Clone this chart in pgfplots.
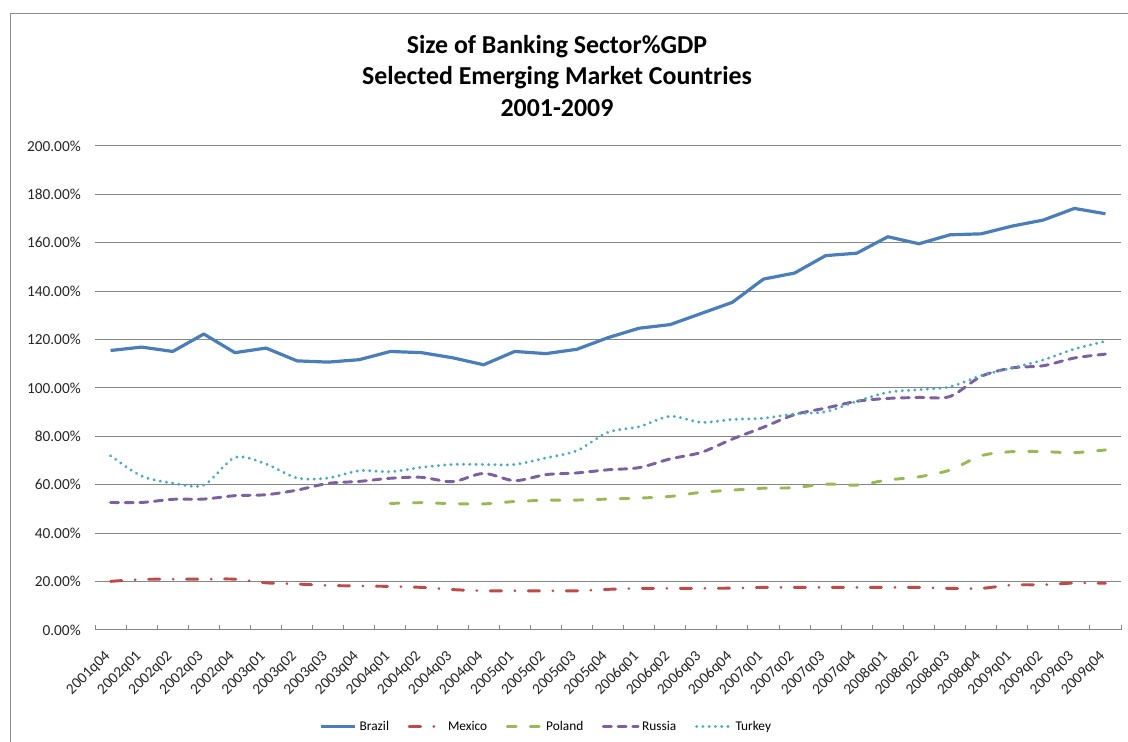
\documentclass[border=0pt]{standalone}
\usepackage{pgfplots}
\pgfplotsset{compat=1.18}
\usepackage{pgfplotstable}
\usepackage{fontspec}
\setmainfont{Carlito}
\definecolor{cBrazil}{HTML}{4A7EBB}
\definecolor{cMexico}{HTML}{BE4B48}
\definecolor{cPoland}{HTML}{98B954}
\definecolor{cRussia}{HTML}{7D60A0}
\definecolor{cTurkey}{HTML}{46AAC5}
\definecolor{gridgray}{HTML}{868686}
\definecolor{framegray}{HTML}{8C8C8C}
\pgfplotstableread{
idx Brazil Mexico Poland Russia Turkey
0 115.5 20.1 nan 52.7 72.0
1 116.9 20.9 nan 52.7 63.6
2 115.1 21.0 nan 54.0 60.7
3 122.3 21.0 nan 54.1 59.9
4 114.6 21.0 nan 55.5 71.3
5 116.5 19.5 nan 55.9 68.6
6 111.2 19.0 nan 57.8 62.8
7 110.7 18.4 nan 60.6 62.8
8 111.7 18.2 nan 61.4 65.8
9 115.1 18.0 52.3 62.7 65.4
10 114.6 17.6 52.6 63.1 67.2
11 112.5 16.7 52.2 61.3 68.4
12 109.6 16.2 52.1 64.7 68.4
13 115.1 16.2 53.1 61.7 68.4
14 114.2 16.2 53.6 64.2 71.1
15 116.0 16.2 53.7 64.9 74.1
16 120.8 16.8 54.1 66.2 81.7
17 124.7 17.2 54.5 67.1 84.0
18 126.2 17.2 55.2 70.7 88.3
19 130.8 17.2 56.9 73.4 85.8
20 135.4 17.3 57.8 78.9 87.0
21 145.0 17.6 58.6 83.8 87.5
22 147.5 17.6 58.8 89.0 89.3
23 154.7 17.6 60.3 91.7 90.2
24 155.7 17.6 59.9 94.5 94.5
25 162.5 17.6 62.0 95.7 98.2
26 159.6 17.6 63.3 96.1 99.3
27 163.3 17.2 66.1 96.5 100.5
28 163.7 17.2 72.0 104.8 105.1
29 166.9 18.6 73.7 108.3 108.3
30 169.4 18.7 73.7 109.2 111.6
31 174.2 19.4 73.3 112.4 116.1
32 172.0 19.3 74.4 114.0 119.3
}\datatable
\begin{document}
\begin{tikzpicture}
\useasboundingbox (0,0) rectangle (846pt,556.5pt);
\draw[framegray, line width=0.75pt] (7.5pt,0) -- (7.5pt,546pt) -- (846pt,546pt);
\node[font=\fontsize{19.4}{23.6}\selectfont\bfseries, align=center] at (417.75pt,499.5pt) {Size of Banking Sector\%GDP\\Selected Emerging Market Countries\\2001-2009};
\begin{axis}[
  at={(71.25pt,84pt)}, anchor=south west,
  scale only axis, width=769.5pt, height=363pt,
  xmin=-0.5, xmax=32.5, ymin=0, ymax=200,
  axis line style={draw=none},
  ytick={0,20,...,200},
  yticklabels={0.00\%,20.00\%,40.00\%,60.00\%,80.00\%,100.00\%,120.00\%,140.00\%,160.00\%,180.00\%,200.00\%},
  ymajorgrids, grid style={gridgray, line width=0.75pt},
  ytick style={draw=none},
  xtick={0,...,32},
  xticklabels={2001q04,2002q01,2002q02,2002q03,2002q04,2003q01,2003q02,2003q03,2003q04,2004q01,2004q02,2004q03,2004q04,2005q01,2005q02,2005q03,2005q04,2006q01,2006q02,2006q03,2006q04,2007q01,2007q02,2007q03,2007q04,2008q01,2008q02,2008q03,2008q04,2009q01,2009q02,2009q03,2009q04},
  major x tick style={draw=none},
  minor xtick={-0.5,0.5,...,32.5},
  minor tick length=3.75pt,
  minor x tick style={gridgray, line width=0.75pt},
  xtick pos=bottom, xtick align=inside,
  yticklabel style={font=\fontsize{11.5}{13}\selectfont, text=black!85, anchor=east, inner sep=0pt, xshift=-10.5pt},
  xticklabel style={font=\fontsize{11.5}{13}\selectfont, text=black!85, rotate=45, anchor=north east, inner sep=0pt, xshift=-14pt, yshift=-6.5pt},
  legend columns=5,
  legend style={draw=none, fill=none, at={(axis description cs:0.44,-0.2)}, anchor=center,
    font=\fontsize{10}{12}\selectfont, inner sep=0pt,
    /tikz/every even column/.append style={column sep=12pt},
    nodes={inner sep=2pt}},
  legend image code/.code={\draw[#1] (0pt,0pt) -- (26pt,0pt);},
  clip=false,
]
\addplot[cBrazil, line width=2.4pt, line join=round] table[x=idx,y=Brazil] {\datatable};
\addlegendentry{Brazil}
\addplot[cMexico, line width=2.2pt, line cap=round, smooth, dash pattern=on 8.5pt off 10pt on 0.01pt off 10pt] table[x=idx,y=Mexico] {\datatable};
\addlegendentry{Mexico}
\addplot[cPoland, line width=2.2pt, line cap=round, smooth, dash pattern=on 6.5pt off 10.75pt] table[x=idx,y=Poland] {\datatable};
\addlegendentry{Poland}
\addplot[cRussia, line width=2.2pt, line cap=round, smooth, dash pattern=on 6pt off 5pt] table[x=idx,y=Russia] {\datatable};
\addlegendentry{Russia}
\addplot[cTurkey, line width=2.4pt, line cap=round, smooth, dash pattern=on 0.01pt off 4.7pt] table[x=idx,y=Turkey] {\datatable};
\addlegendentry{Turkey}
\end{axis}
\end{tikzpicture}
\end{document}
